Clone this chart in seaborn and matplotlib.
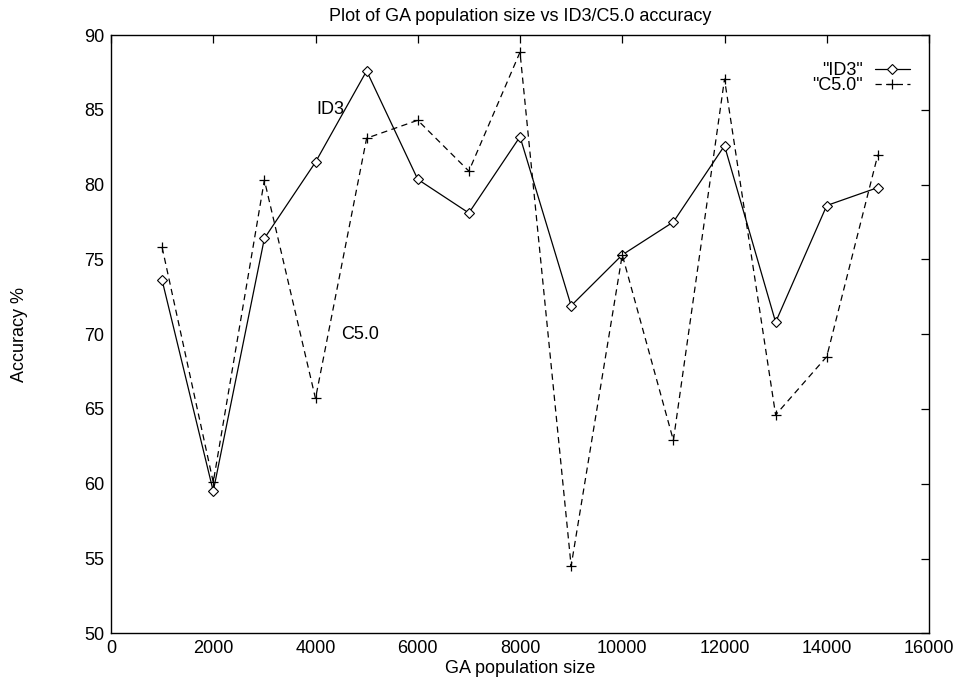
import matplotlib
matplotlib.use("Agg")
import matplotlib.pyplot as plt
import seaborn as sns
import pandas as pd

pop_size = [1000, 2000, 3000, 4000, 5000, 6000, 7000, 8000, 9000, 10000,
            11000, 12000, 13000, 14000, 15000]
id3_acc = [73.6, 59.5, 76.4, 81.5, 87.6, 80.35, 78.1, 83.2, 71.9, 75.3,
           77.5, 82.6, 70.8, 78.6, 79.8]
c50_acc = [75.8, 60.1, 80.3, 65.7, 83.1, 84.3, 80.9, 88.85, 54.5, 75.3,
           62.9, 87.05, 64.6, 68.5, 82.0]
x_ticks = list(range(0, 16001, 2000))
y_ticks = list(range(50, 91, 5))

sns.set_style("white")
plt.rcParams['font.family'] = ['Liberation Sans', 'DejaVu Sans']
plt.rcParams['text.color'] = 'black'
plt.rcParams['axes.labelcolor'] = 'black'

fig = plt.figure(figsize=(9.61, 6.83), dpi=100)
ax = fig.add_axes([111/961, 1 - 633.3/683, (929 - 111)/961, (633.3 - 35)/683])

df_id3 = pd.DataFrame({"x": pop_size, "y": id3_acc})
df_c50 = pd.DataFrame({"x": pop_size, "y": c50_acc})

sns.lineplot(data=df_id3, x="x", y="y", ax=ax, color="black", linewidth=0.9,
             marker="D", markersize=5.2, markerfacecolor="white",
             markeredgecolor="black", markeredgewidth=0.8, label='"ID3"')
sns.lineplot(data=df_c50, x="x", y="y", ax=ax, color="black", linewidth=0.9,
             marker="+", markersize=6.8, markeredgewidth=0.9,
             markeredgecolor="black", label='"C5.0"')
ax.lines[1].set_dashes((5, 3.5))

ax.set_xlim(0, 16000)
ax.set_ylim(50, 90)
ax.set_xticks(x_ticks)
ax.set_yticks(y_ticks)
ax.tick_params(direction="in", length=6, width=0.9, top=True, right=True,
               labelsize=13, colors="black", pad=5)
for s in ax.spines.values():
    s.set_visible(True)
    s.set_color("black")
    s.set_linewidth(1.0)

ax.set_title("Plot of GA population size vs ID3/C5.0 accuracy", fontsize=13, pad=10)
ax.set_xlabel("GA population size", fontsize=13, labelpad=2)
ax.set_ylabel("Accuracy %", fontsize=13, labelpad=40)

ax.text(4010, 85.0, "ID3", fontsize=13, va="center", ha="left")
ax.text(4510, 70.0, "C5.0", fontsize=13, va="center", ha="left")

leg = ax.legend(loc="upper right", bbox_to_anchor=(0.985, 0.967),
                frameon=False, markerfirst=False,
                fontsize=13, handlelength=1.9, handletextpad=0.67,
                labelspacing=-0.1, borderaxespad=0.0)
for t in leg.get_texts():
    t.set_ha("right")

fig.savefig("out.png", dpi=100)
